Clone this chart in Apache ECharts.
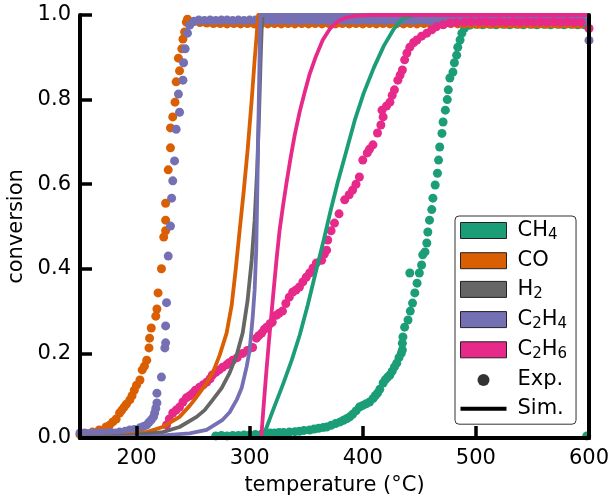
<!DOCTYPE html>
<html>
<head>
<meta charset="utf-8">
<script src="https://cdn.jsdelivr.net/npm/echarts@6/dist/echarts.min.js"></script>
<style>
  html, body { margin: 0; padding: 0; background: #fff; }
  #chart { width: 614px; height: 496px; }
</style>
</head>
<body>
<div id="chart"></div>
<script>
// species and colours (legend order)
const species = ['CH₄', 'CO', 'H₂', 'C₂H₄', 'C₂H₆'];
const colors = ['#1b9e77', '#d95f02', '#666666', '#7570b3', '#e7298a'];
const xTicks = [200, 300, 400, 500, 600];

// experimental points [temperature °C, conversion]
const ch4Exp = [
  [270, 0.005], [275, 0.006], [280, 0.005], [285, 0.006], [290, 0.006], [295, 0.007], [300, 0.007],
  [305, 0.008], [310, 0.008], [314, 0.01], [318, 0.012], [322, 0.012], [326, 0.013], [330, 0.013],
  [335, 0.014], [340, 0.015], [344, 0.016], [348, 0.018], [353, 0.019], [357, 0.021], [361, 0.023],
  [365, 0.025], [368, 0.026], [372, 0.03], [376, 0.034], [380, 0.038], [383, 0.042], [386, 0.046],
  [388.5, 0.05], [391, 0.056], [394, 0.064], [397, 0.073], [400, 0.077], [403, 0.081], [406, 0.085],
  [409, 0.093], [411, 0.1], [413, 0.106], [415, 0.115], [418, 0.13], [420, 0.138], [422, 0.144],
  [424, 0.149], [426, 0.158], [428, 0.168], [430, 0.177], [432, 0.19], [434, 0.2], [435, 0.208],
  [435, 0.224], [435.5, 0.239], [437, 0.262], [440, 0.279], [442, 0.3], [444, 0.319], [446, 0.343],
  [448, 0.366], [450, 0.39], [441.6, 0.39], [452, 0.409], [453, 0.433], [455, 0.44], [456.6, 0.461],
  [457.5, 0.487], [459, 0.515], [461, 0.54], [462, 0.567], [464, 0.598], [466, 0.626], [467, 0.657],
  [468, 0.688], [470, 0.72], [471, 0.747], [473, 0.775], [474.7, 0.8], [475.6, 0.823], [477, 0.851],
  [479.7, 0.865], [481, 0.887], [483, 0.905], [484, 0.924], [486, 0.941], [487.6, 0.957], [490, 0.969],
  [494.7, 0.976], [500, 0.978], [506, 0.977], [512, 0.978], [518, 0.977], [524, 0.978], [530, 0.977],
  [536, 0.978], [542, 0.977], [548, 0.978], [554, 0.977], [560, 0.978], [566, 0.977], [572, 0.978],
  [578, 0.977], [584, 0.978], [590, 0.977], [596, 0.977], [598, 0.005]
];
const coExp = [
  [150, 0.008], [156, 0.01], [161, 0.014], [167, 0.019], [173, 0.026], [176, 0.03], [179, 0.038],
  [182, 0.045], [185, 0.059], [187, 0.066], [189, 0.073], [191, 0.08], [194, 0.09], [196, 0.1],
  [198, 0.113], [200, 0.125], [203, 0.137], [205, 0.161], [207, 0.17], [209, 0.184], [211, 0.213],
  [211.5, 0.236], [213, 0.26], [217, 0.288], [218, 0.305], [219, 0.343], [222, 0.4], [224, 0.475],
  [225.7, 0.49], [225.7, 0.515], [225.7, 0.555], [228, 0.634], [230, 0.686], [230, 0.733], [232, 0.759],
  [234, 0.794], [235, 0.842], [238, 0.868], [237, 0.898], [240, 0.92], [241, 0.943], [242.5, 0.96],
  [244, 0.983], [245, 0.99], [250, 0.984], [256, 0.982], [262, 0.981], [268, 0.98], [274, 0.98],
  [280, 0.979], [286, 0.98], [292, 0.979], [298, 0.98], [304, 0.979], [310, 0.98], [316, 0.979],
  [322, 0.98], [328, 0.979], [334, 0.98], [340, 0.979], [346, 0.98], [352, 0.979], [358, 0.98],
  [364, 0.979], [370, 0.98], [376, 0.979], [382, 0.98], [388, 0.979], [394, 0.98], [400, 0.979],
  [406, 0.98], [412, 0.979], [418, 0.98], [424, 0.979], [430, 0.98], [436, 0.979], [442, 0.98],
  [448, 0.979], [454, 0.98], [460, 0.979], [466, 0.98], [472, 0.979], [478, 0.98], [484, 0.979],
  [490, 0.979], [496, 0.979], [502, 0.978], [508, 0.979], [514, 0.978], [520, 0.979], [526, 0.978],
  [532, 0.979], [538, 0.978], [544, 0.979], [550, 0.978], [556, 0.979], [562, 0.978], [568, 0.979],
  [574, 0.978], [580, 0.979], [586, 0.978], [592, 0.978]
];
const c2h4Exp = [
  [150, 0.012], [154, 0.012], [158, 0.01], [161, 0.012], [165, 0.011], [169, 0.012], [173.5, 0.012],
  [177, 0.013], [181, 0.012], [185, 0.014], [190, 0.016], [194, 0.019], [198, 0.02], [203, 0.024],
  [206, 0.027], [209, 0.031], [211, 0.037], [213, 0.043], [215, 0.05], [216, 0.059], [217, 0.07],
  [218, 0.083], [218, 0.106], [222, 0.144], [225, 0.213], [225.7, 0.225], [225.7, 0.265], [226.5, 0.32],
  [228, 0.43], [230, 0.501], [231, 0.567], [232, 0.608], [233.6, 0.655], [235, 0.73], [238, 0.77],
  [237, 0.813], [241, 0.846], [241.6, 0.887], [243, 0.92], [245, 0.957], [247, 0.976], [251, 0.985],
  [255, 0.988], [260, 0.987], [265, 0.988], [270, 0.987], [275, 0.988], [280, 0.988], [285, 0.987],
  [290, 0.988], [295, 0.987], [300, 0.988], [305, 0.988], [310, 0.987], [315, 0.988], [320, 0.987],
  [325, 0.988], [330, 0.988], [335, 0.987], [340, 0.988], [345, 0.987], [350, 0.988], [355, 0.988],
  [360, 0.987], [365, 0.988], [370, 0.987], [375, 0.988], [380, 0.988], [385, 0.987], [390, 0.988],
  [395, 0.987], [400, 0.988], [405, 0.988], [410, 0.987], [415, 0.988], [420, 0.987], [425, 0.988],
  [430, 0.988], [435, 0.987], [440, 0.988], [445, 0.987], [450, 0.988], [455, 0.988], [460, 0.987],
  [465, 0.988], [470, 0.987], [475, 0.988], [480, 0.988], [485, 0.987], [490, 0.988], [495, 0.987],
  [500, 0.988], [505, 0.988], [510, 0.987], [515, 0.988], [520, 0.987], [525, 0.988], [530, 0.988],
  [535, 0.987], [540, 0.988], [545, 0.987], [550, 0.988], [555, 0.988], [560, 0.987], [565, 0.988],
  [570, 0.987], [575, 0.988], [580, 0.988], [585, 0.987], [590, 0.988], [595, 0.987], [600, 0.94]
];
const c2h6Exp = [
  [226.5, 0.031], [229, 0.045], [232, 0.059], [235, 0.066], [238, 0.073], [241, 0.085], [244, 0.095],
  [247, 0.1], [249.6, 0.106], [252, 0.113], [255.7, 0.12], [259, 0.126], [262, 0.132], [265, 0.14],
  [267, 0.149], [270, 0.155], [273, 0.161], [276, 0.167], [279.6, 0.173], [282, 0.178], [285, 0.184],
  [289, 0.19], [293.8, 0.2], [298, 0.207], [302.6, 0.214], [306, 0.236], [308, 0.242], [310.6, 0.248],
  [313, 0.257], [315, 0.262], [318, 0.27], [320, 0.274], [323.6, 0.29], [326, 0.295], [329, 0.3],
  [332, 0.318], [335, 0.333], [338, 0.345], [341, 0.35], [344, 0.357], [347, 0.369], [350, 0.38],
  [353, 0.39], [356, 0.402], [359, 0.414], [363.6, 0.42], [366, 0.435], [368, 0.444], [369, 0.468],
  [372, 0.49], [375, 0.508], [379, 0.53], [384, 0.563], [388, 0.575], [391, 0.586], [394, 0.6],
  [397, 0.617], [400, 0.657], [404, 0.674], [406, 0.683], [409, 0.693], [413, 0.721], [416, 0.74],
  [418, 0.759], [417, 0.775], [421, 0.785], [424, 0.794], [426, 0.81], [428, 0.823], [431, 0.846],
  [433, 0.858], [435, 0.87], [437, 0.894], [439, 0.91], [441.6, 0.924], [445, 0.935], [447.8, 0.941],
  [452, 0.95], [456.6, 0.957], [461, 0.965], [465, 0.972], [471, 0.977], [477, 0.981], [483, 0.982],
  [490, 0.983], [496, 0.984], [503, 0.984], [509, 0.984], [515, 0.983], [521, 0.984], [527, 0.983],
  [533, 0.984], [539, 0.983], [545, 0.984], [551, 0.983], [557, 0.984], [563, 0.983], [569, 0.984],
  [575, 0.983], [581, 0.984], [587, 0.983], [593, 0.983], [600, 0.968]
];

// simulated curves
const ch4Sim = [
  [311.5, 0], [320.4, 0.064], [329.2, 0.125], [337.2, 0.184], [344.2, 0.243], [351.3, 0.314],
  [358.4, 0.392], [365.5, 0.468], [371.7, 0.539], [377.9, 0.605], [385, 0.674], [393, 0.752],
  [400.9, 0.816], [409.7, 0.875], [418.6, 0.927], [427.4, 0.967], [435.4, 0.991], [446, 1], [600, 1]
];
const coSim = [
  [150, 0.001], [185, 0.005], [208.8, 0.014], [223, 0.026], [238, 0.05], [246.9, 0.076], [253.1, 0.097],
  [260.2, 0.123], [267.3, 0.154], [273.5, 0.196], [279.6, 0.248], [284.1, 0.314], [287.6, 0.397],
  [291.2, 0.492], [294.7, 0.582], [298.2, 0.681], [301.8, 0.799], [304.4, 0.894], [306.2, 0.953],
  [307.5, 1], [600, 1]
];
const h2Sim = [
  [150, 0], [193.8, 0.006], [223, 0.014], [238, 0.026], [253.1, 0.05], [260.2, 0.066], [267.3, 0.09],
  [275.2, 0.118], [282.3, 0.154], [288.5, 0.196], [293.8, 0.248], [298.2, 0.326], [301.8, 0.421],
  [304.4, 0.515], [306.6, 0.634], [308.4, 0.775], [309.7, 0.894], [310.6, 0.965], [311.5, 1], [600, 1]
];
const c2h4Sim = [
  [150, 0], [211.5, 0.004], [246.9, 0.011], [261.9, 0.019], [276.1, 0.043], [282.3, 0.061],
  [288.5, 0.09], [292.9, 0.118], [297.3, 0.168], [300, 0.208], [302.7, 0.286], [304.4, 0.35],
  [305.8, 0.444], [306.6, 0.563], [307.5, 0.704], [308.4, 0.846], [309.1, 0.953], [309.6, 1], [600, 1]
];
const c2h6Sim = [
  [310.2, 0], [312.4, 0.078], [315, 0.165], [317.7, 0.248], [320.8, 0.338], [323.9, 0.426],
  [326.5, 0.492], [329.6, 0.551], [332.7, 0.605], [336.3, 0.664], [339.8, 0.716], [344.2, 0.771],
  [348.7, 0.818], [353.1, 0.861], [358.4, 0.901], [364.6, 0.941], [370.8, 0.967], [377, 0.983],
  [384.1, 0.993], [392.9, 0.998], [406.2, 1], [600, 1]
];

const expData = [ch4Exp, coExp, null, c2h4Exp, c2h6Exp];
const simData = [ch4Sim, coSim, h2Sim, c2h4Sim, c2h6Sim];

// legend labels with real subscripts
const legendText = {
  'CH₄': '{n|CH}{s|4}',
  'CO': '{n|CO}',
  'H₂': '{n|H}{s|2}',
  'C₂H₄': '{n|C}{s|2}{n|H}{s|4}',
  'C₂H₆': '{n|C}{s|2}{n|H}{s|6}',
  'Exp.': '{n|Exp.}',
  'Sim.': '{n|Sim.}'
};

const font = 'DejaVu Sans';
const frame = { show: true, lineStyle: { color: '#000', width: 4 } };

let series = [];
// points first, curves drawn above them
for (let i = 0; i < species.length; i++) {
  if (!expData[i]) continue;
  series.push({
    name: species[i],
    type: 'scatter',
    data: expData[i],
    symbolSize: 9,
    itemStyle: { color: colors[i], opacity: 1 },
    z: 2
  });
}
for (let i = 0; i < species.length; i++) {
  series.push({
    name: species[i],
    type: 'line',
    data: simData[i],
    showSymbol: false,
    lineStyle: { color: colors[i], width: 3.8, join: 'round' },
    itemStyle: { color: colors[i] },
    z: 3
  });
}
series.push({ name: 'Exp.', type: 'scatter', data: [], itemStyle: { color: '#000' } });
series.push({ name: 'Sim.', type: 'line', data: [], itemStyle: { color: '#000' }, lineStyle: { color: '#000' } });

let legendData = species.map(function (s) { return { name: s, icon: 'rect' }; });
legendData.push({
  name: 'Exp.',
  icon: 'path://M0,0L0,0M46,16L46,16M29,8A6,6,0,1,1,17,8A6,6,0,1,1,29,8Z',
  itemStyle: { borderWidth: 0 }
});
legendData.push({
  name: 'Sim.',
  icon: 'path://M0,6H46V10H0Z',
  itemStyle: { borderWidth: 0 }
});

const chart = echarts.init(document.getElementById('chart'), null, { renderer: 'canvas' });
chart.setOption({
  animation: false,
  textStyle: { fontFamily: font },
  grid: { left: 80, right: 25, top: 15, bottom: 58, outerBoundsMode: 'none' },
  legend: {
    orient: 'vertical',
    left: 455,
    top: 216,
    itemWidth: 46,
    itemHeight: 16,
    itemGap: 7.7,
    padding: [4, 9, 5, 5],
    backgroundColor: '#fff',
    borderColor: '#333',
    borderWidth: 1,
    borderRadius: 4,
    selectedMode: false,
    itemStyle: { borderColor: '#222', borderWidth: 1 },
    formatter: function (name) { return legendText[name]; },
    textStyle: {
      fontFamily: font, fontSize: 21, color: '#000', padding: [0, 0, 0, 6],
      rich: {
        n: { fontFamily: font, fontSize: 21, lineHeight: 24, color: '#000' },
        s: { fontFamily: font, fontSize: 15, lineHeight: 12, verticalAlign: 'bottom', color: '#000' }
      }
    },
    data: legendData
  },
  xAxis: [{
    type: 'value',
    min: 150,
    max: 600,
    z: 10,
    name: 'temperature (°C)',
    nameLocation: 'middle',
    nameGap: 37,
    nameTextStyle: { fontFamily: font, fontSize: 21, color: '#000' },
    axisLine: frame,
    axisTick: { show: true, inside: true, length: 12, customValues: xTicks, lineStyle: { color: '#000', width: 3.5 } },
    axisLabel: { customValues: xTicks, fontFamily: font, fontSize: 21, color: '#000', margin: 10 },
    splitLine: { show: false }
  }, {
    type: 'value',
    position: 'top',
    min: 150,
    max: 600,
    z: 10,
    axisLine: frame,
    axisTick: { show: false },
    axisLabel: { show: false },
    splitLine: { show: false }
  }],
  yAxis: [{
    type: 'value',
    min: 0,
    max: 1,
    interval: 0.2,
    z: 10,
    name: 'conversion',
    nameLocation: 'middle',
    nameGap: 52,
    nameTextStyle: { fontFamily: font, fontSize: 21, color: '#000' },
    axisLine: frame,
    axisTick: { show: true, inside: true, length: 12, lineStyle: { color: '#000', width: 3.5 } },
    axisLabel: {
      fontFamily: font, fontSize: 21, color: '#000', margin: 9,
      formatter: function (v) { return v.toFixed(1); }
    },
    splitLine: { show: false }
  }, {
    type: 'value',
    position: 'right',
    min: 0,
    max: 1,
    z: 10,
    axisLine: frame,
    axisTick: { show: false },
    axisLabel: { show: false },
    splitLine: { show: false }
  }],
  series: series
});
</script>
</body>
</html>
